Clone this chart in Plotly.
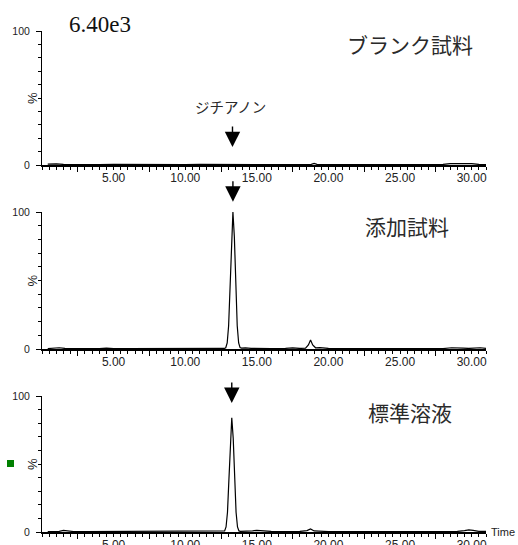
import plotly.graph_objects as go

# ---------------- data ----------------
blank_time = [0.4, 1.0, 1.5, 2.0, 3.0, 4.0, 5.0, 6.0, 7.0, 8.0, 9.0, 10.0, 11.0, 12.0, 13.0, 14.0,
              15.0, 16.0, 17.0, 18.0, 18.8, 19.0, 19.2, 20.0, 21.0, 21.5, 22.0, 23.0, 24.0, 25.0,
              26.0, 27.0, 28.0, 28.5, 29.0, 29.5, 30.0, 30.5, 31.0]
blank_pct = [0.6, 0.8, 0.4, 0.3, 0.3, 0.3, 0.4, 0.3, 0.3, 0.5, 0.3, 0.3, 0.4, 0.3, 0.4, 0.3,
             0.3, 0.4, 0.3, 0.3, 0.5, 1.2, 0.5, 0.3, 0.3, 0.6, 0.3, 0.3, 0.3, 0.3,
             0.4, 0.3, 0.4, 1.0, 1.1, 0.9, 1.0, 0.4, 0.3]

spiked_time = [0.4, 0.8, 1.2, 1.6, 2.0, 3.0, 4.0, 4.5, 5.0, 6.0, 7.0, 8.0, 9.0, 9.5, 10.0, 11.0,
               12.0, 12.5, 12.73, 12.83, 12.93, 13.03, 13.13, 13.23, 13.33, 13.43, 13.53, 13.63,
               13.73, 13.83, 13.93, 14.2, 14.6, 15.0, 16.0, 17.0, 17.5, 18.0, 18.4, 18.6, 18.75,
               18.9, 19.1, 19.4, 20.0, 21.0, 22.0, 23.0, 24.0, 25.0, 26.0, 27.0, 28.0, 28.6, 29.0,
               29.4, 29.8, 30.2, 30.6, 31.0]
spiked_pct = [0.3, 0.8, 0.9, 0.4, 0.3, 0.3, 0.3, 0.6, 0.3, 0.3, 0.3, 0.3, 0.5, 0.7, 0.3, 0.3,
              0.5, 0.3, 0.4, 0.9, 4.4, 17, 46, 82, 100, 82, 46, 17,
              4.4, 1.0, 0.6, 0.8, 0.5, 0.4, 0.3, 0.5, 0.8, 0.4, 0.6, 3.0, 6.5,
              3.0, 0.9, 1.0, 0.4, 0.3, 0.3, 0.3, 0.3, 0.3, 0.3, 0.3, 0.3, 0.9, 1.0,
              0.6, 0.4, 0.8, 0.9, 0.5]

std_time = [0.4, 0.8, 1.2, 1.5, 1.8, 2.2, 3.0, 4.0, 5.0, 6.0, 7.0, 8.0, 9.0, 10.0, 11.0, 12.0,
            12.4, 12.65, 12.75, 12.85, 12.95, 13.05, 13.15, 13.25, 13.35, 13.45, 13.55, 13.65,
            13.75, 13.85, 14.2, 14.7, 15.0, 15.5, 16.0, 17.0, 18.0, 18.5, 18.75, 19.0, 19.5,
            20.0, 21.0, 22.0, 23.0, 24.0, 25.0, 26.0, 27.0, 28.0, 29.0, 29.5, 29.8, 30.1, 30.5, 31.0]
std_pct = [0.3, 0.4, 0.5, 1.2, 0.6, 0.3, 0.3, 0.3, 0.3, 0.3, 0.3, 0.3, 0.3, 0.3, 0.3, 0.4,
           0.3, 0.4, 0.8, 3.7, 14.5, 38.5, 69, 84, 69, 38.5, 14.5, 3.7,
           0.8, 0.5, 0.4, 0.8, 1.2, 0.6, 0.4, 0.3, 0.4, 1.0, 2.2, 0.8, 0.4,
           0.3, 0.3, 0.3, 0.3, 0.3, 0.3, 0.3, 0.3, 0.3, 0.4, 1.0, 1.6, 1.2, 0.5, 0.4]

panel_titles = ["ブランク試料", "添加試料", "標準溶液"]
compound_label = "ジチアノン"
arrow_rt = [13.3, 13.33, 13.25]
intensity_label = "6.40e3"
x_tick_vals = [5, 10, 15, 20, 25, 30]
x_tick_text = ["5.00", "10.00", "15.00", "20.00", "25.00", "30.00"]
tall_tick_vals = [2.5, 7.5, 12.5, 17.5, 22.5, 27.5]
y_tick_vals = [0, 100]
y_tick_text = ["0", "100"]

series = [(blank_time, blank_pct), (spiked_time, spiked_pct), (std_time, std_pct)]

# ---------------- layout geometry ----------------
W, H = 518, 545
x_dom = [42 / W, 486 / W]
panel_px = [(31, 165), (212, 349), (396, 532)]
y_doms = [[1 - b / H, 1 - t / H] for t, b in panel_px]

SANS = "'Liberation Sans', Arial, sans-serif"
SERIF = "'Liberation Serif', 'Times New Roman', serif"
CJK = "'Noto Sans CJK JP', sans-serif"

fig = go.Figure()

for i, (t, v) in enumerate(series):
    sfx = "" if i == 0 else str(i + 1)
    fig.add_trace(go.Scatter(x=t, y=v, mode="lines", xaxis="x" + sfx, yaxis="y" + sfx,
                             line=dict(color="black", width=1.2), hoverinfo="skip"))
    fig.add_trace(go.Scatter(x=[], y=[], mode="lines", xaxis="x" + str(i + 4), yaxis="y" + sfx,
                             hoverinfo="skip"))

layout = dict(width=W, height=H, margin=dict(l=0, r=0, t=0, b=0, autoexpand=False),
              paper_bgcolor="white", plot_bgcolor="white", showlegend=False)

for i in range(3):
    sfx = "" if i == 0 else str(i + 1)
    layout["xaxis" + sfx] = dict(
        domain=x_dom, range=[0, 31], anchor="y" + sfx, automargin=False,
        showline=True, linecolor="black", linewidth=2,
        ticks="outside", tickmode="array", tickvals=x_tick_vals, ticktext=x_tick_text,
        ticklen=3, tickwidth=1, tickcolor="black",
        minor=dict(dtick=0.5, tick0=0, ticks="outside", ticklen=3, tickwidth=1, tickcolor="black"),
        showgrid=False, zeroline=False, ticklabelstandoff=-2,
        tickfont=dict(family=SANS, size=12, color="#222"), fixedrange=True)
    layout["xaxis" + str(i + 4)] = dict(
        overlaying="x" + sfx, anchor="y" + sfx, range=[0, 31], side="bottom", automargin=False,
        tickmode="array", tickvals=tall_tick_vals, ticks="outside", ticklen=6, tickwidth=1,
        tickcolor="black", showticklabels=False, showline=False, showgrid=False, zeroline=False)
    layout["yaxis" + sfx] = dict(
        domain=y_doms[i], range=[0, 100], anchor="x" + sfx, automargin=False,
        showline=True, linecolor="black", linewidth=1,
        ticks="outside", tickmode="array", tickvals=y_tick_vals, ticktext=y_tick_text,
        ticklen=5, tickwidth=1, tickcolor="black",
        minor=dict(dtick=10, tick0=0, ticks="outside", ticklen=3, tickwidth=1, tickcolor="black"),
        showgrid=False, zeroline=False, ticklabelstandoff=4,
        tickfont=dict(family=SANS, size=10.5, color="#222"), fixedrange=True)

annotations = []
arrow_tip = [0.134, 1.075, 0.949]
title_pos = [(410, 44), (407, 226), (410, 412)]
for i in range(3):
    sfx = "" if i == 0 else str(i + 1)
    annotations.append(dict(text="%", xref="paper", x=32 / W, xanchor="center",
                            yref="y" + sfx + " domain", y=0.5, yanchor="middle",
                            textangle=-90, showarrow=False,
                            font=dict(family=SANS, size=13, color="#222")))
    annotations.append(dict(text=panel_titles[i], xref="paper", x=title_pos[i][0] / W,
                            xanchor="center", yref="paper", y=1 - title_pos[i][1] / H,
                            yanchor="middle", showarrow=False,
                            font=dict(family=CJK, size=21, color="#2a2a2a")))
    annotations.append(dict(text="", xref="x" + sfx, x=arrow_rt[i],
                            yref="y" + sfx + " domain", y=arrow_tip[i],
                            showarrow=True, ax=0, ay=-22, arrowhead=2, arrowsize=2.2,
                            arrowwidth=1.4, arrowcolor="black", standoff=0))

annotations.append(dict(text=intensity_label, xref="paper", x=67 / W, xanchor="left",
                        yref="paper", y=1 - 24 / H, yanchor="middle", showarrow=False,
                        font=dict(family=SERIF, size=23, color="#111")))
annotations.append(dict(text=compound_label, xref="paper", x=230 / W, xanchor="center",
                        yref="paper", y=1 - 106 / H, yanchor="middle",
                        showarrow=False, font=dict(family=CJK, size=14.5, color="#2a2a2a")))
annotations.append(dict(text="Time", xref="paper", x=489 / W, xanchor="left", yref="paper",
                        y=1 - 532 / H, yanchor="middle", showarrow=False,
                        font=dict(family=SANS, size=11, color="#222")))
layout["annotations"] = annotations

layout["shapes"] = [dict(type="rect", xref="paper", yref="paper",
                         x0=7 / W, x1=14 / W, y0=1 - 467 / H, y1=1 - 460 / H,
                         fillcolor="#008000", line=dict(width=0))]

fig.update_layout(**layout)
fig.write_html("out.html")
